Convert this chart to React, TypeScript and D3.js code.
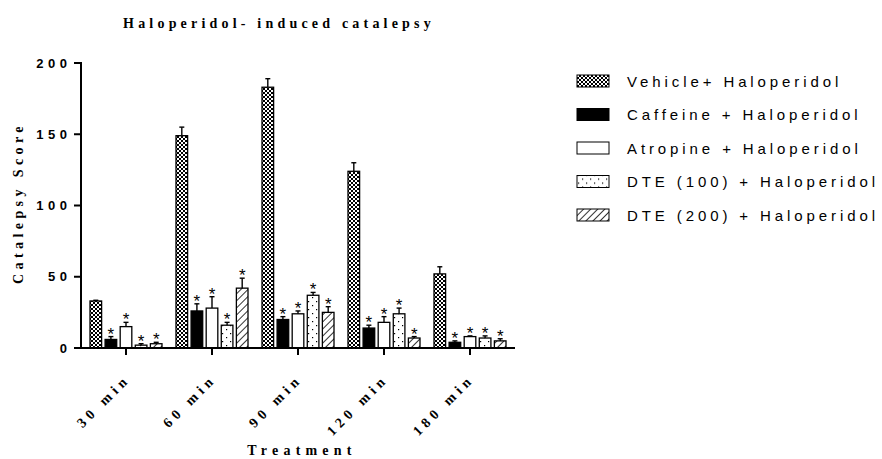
import React from "react";
import * as d3 from "d3";

// time points on the x axis
const categories = ["30 min", "60 min", "90 min", "120 min", "180 min"];

const seriesNames = [
  "Vehicle+ Haloperidol",
  "Caffeine + Haloperidol",
  "Atropine + Haloperidol",
  "DTE (100) + Haloperidol",
  "DTE (200) + Haloperidol",
];

// mean catalepsy score per time point
const vehicle = [33, 149, 183, 124, 52];
const caffeine = [6, 26, 20, 14, 4];
const atropine = [15, 28, 24, 18, 8];
const dte100 = [2, 16, 37, 24, 7];
const dte200 = [3, 42, 25, 7, 5];

// SEM (only the upper bar is drawn)
const vehicleErr = [0.5, 6, 6, 6, 5];
const caffeineErr = [2, 5, 2, 2, 1];
const atropineErr = [3, 8, 2, 4, 0.5];
const dte100Err = [1, 2, 2, 4, 1.5];
const dte200Err = [1, 7, 4, 1, 1.5];

// significance stars
const starred = [false, true, true, true, true];

const yTicks = [0, 50, 100, 150, 200];

const values = [vehicle, caffeine, atropine, dte100, dte200];
const errors = [vehicleErr, caffeineErr, atropineErr, dte100Err, dte200Err];
const fills = ["url(#checker)", "#000", "#fff", "url(#dots)", "url(#hatch)"];

const serif = "'Liberation Serif', 'Times New Roman', serif";
const sans = "'Liberation Sans', Arial, sans-serif";

export default function App() {
  const width = 882;
  const height = 459;

  const x = d3.scaleBand().domain(categories).range([83, 513]);
  const xs = d3
    .scaleBand()
    .domain(seriesNames)
    .range([7, 79])
    .paddingInner(0.23);
  const y = d3.scaleLinear().domain([0, 200]).range([348, 63]);

  return (
    <svg
      width={width}
      height={height}
      style={{ position: "absolute", left: 0, top: 0, background: "#fff" }}
    >
      <defs>
        <pattern id="checker" patternUnits="userSpaceOnUse" width={4} height={4}>
          <rect width={4} height={4} fill="#fff" />
          <rect x={0} y={0} width={2} height={2} fill="#000" />
          <rect x={2} y={2} width={2} height={2} fill="#000" />
        </pattern>
        <pattern id="dots" patternUnits="userSpaceOnUse" width={8} height={8}>
          <rect width={8} height={8} fill="#fff" />
          <rect x={1} y={1} width={1.2} height={1.2} fill="#000" />
          <rect x={5} y={5} width={1.2} height={1.2} fill="#000" />
        </pattern>
        <pattern
          id="hatch"
          patternUnits="userSpaceOnUse"
          width={5}
          height={5}
          patternTransform="rotate(45)"
        >
          <rect width={5} height={5} fill="#fff" />
          <line x1={0} y1={0} x2={0} y2={5} stroke="#000" strokeWidth={1.6} />
        </pattern>
      </defs>

      {/* title */}
      <text
        x={279}
        y={28}
        textAnchor="middle"
        fontFamily={serif}
        fontWeight="bold"
        fontSize={14}
        letterSpacing={4.2}
      >
        Haloperidol- induced catalepsy
      </text>

      {/* y axis */}
      <line x1={81} x2={81} y1={y(200) - 1} y2={y(0) + 1} stroke="#000" strokeWidth={2} />
      {yTicks.map((t) => (
        <g key={t}>
          <line x1={74} x2={81} y1={y(t)} y2={y(t)} stroke="#000" strokeWidth={2} />
          <text
            x={71.5}
            y={y(t) + 4.5}
            textAnchor="end"
            fontFamily={sans}
            fontWeight="bold"
            fontSize={13}
            letterSpacing={4.5}
          >
            {t}
          </text>
        </g>
      ))}
      <text
        transform={`translate(23,${203}) rotate(-90)`}
        textAnchor="middle"
        fontFamily={serif}
        fontWeight="bold"
        fontSize={14}
        letterSpacing={4.4}
      >
        Catalepsy Score
      </text>

      {/* bars */}
      {categories.map((c, i) => (
        <g key={c} transform={`translate(${x(c)},0)`}>
          {seriesNames.map((s, j) => {
            const v = values[j][i];
            const e = errors[j][i];
            const bx = xs(s) as number;
            const bw = xs.bandwidth();
            const cx = bx + bw / 2;
            const top = y(v + e);
            return (
              <g key={s}>
                <rect
                  x={bx}
                  y={y(v)}
                  width={bw}
                  height={y(0) - y(v)}
                  fill={fills[j]}
                  stroke="#000"
                  strokeWidth={1.3}
                />
                <line x1={cx} x2={cx} y1={y(v)} y2={top} stroke="#000" strokeWidth={1.4} />
                <line x1={cx - 2.5} x2={cx + 2.5} y1={top} y2={top} stroke="#000" strokeWidth={1.4} />
                {starred[j] && (
                  <text
                    x={cx}
                    y={top + 3}
                    textAnchor="middle"
                    fontFamily={sans}
                    fontSize={17}
                  >
                    *
                  </text>
                )}
              </g>
            );
          })}
        </g>
      ))}

      {/* x axis */}
      <line x1={80} x2={515} y1={y(0)} y2={y(0)} stroke="#000" strokeWidth={2.2} />
      {categories.map((c) => {
        const cx = (x(c) as number) + x.bandwidth() / 2;
        return (
          <g key={c}>
            <line x1={cx} x2={cx} y1={y(0)} y2={y(0) + 7} stroke="#000" strokeWidth={2} />
            <text
              transform={`translate(${cx + 5},${380}) rotate(-45)`}
              textAnchor="end"
              fontFamily={serif}
              fontWeight="bold"
              fontSize={14}
              letterSpacing={4.6}
            >
              {c}
            </text>
          </g>
        );
      })}
      <text
        x={302}
        y={455}
        textAnchor="middle"
        fontFamily={serif}
        fontWeight="bold"
        fontSize={14}
        letterSpacing={5.2}
      >
        Treatment
      </text>

      {/* legend */}
      {seriesNames.map((s, j) => (
        <g key={s} transform={`translate(577,${81 + j * 33.5})`}>
          <rect x={0} y={-6} width={32} height={12} fill={fills[j]} stroke="#000" strokeWidth={1} />
          <text
            x={50}
            y={5.5}
            fontFamily={sans}
            fontSize={15}
            letterSpacing={3.9}
          >
            {s}
          </text>
        </g>
      ))}
    </svg>
  );
}
